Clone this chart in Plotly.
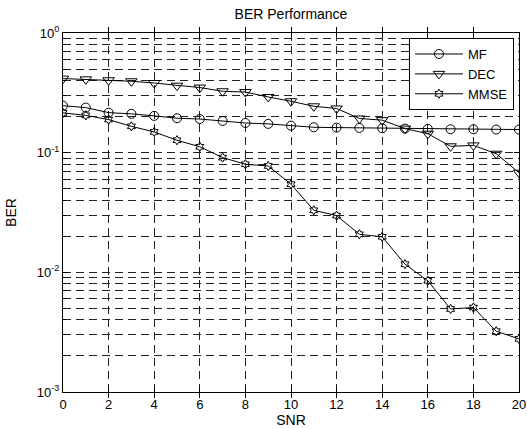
import plotly.graph_objects as go

snr = list(range(0, 21))
mf = [0.247, 0.238, 0.216, 0.211, 0.203, 0.194, 0.191, 0.184, 0.177, 0.174, 0.168,
      0.163, 0.162, 0.161, 0.160, 0.159, 0.158, 0.157, 0.157, 0.156, 0.156]
dec = [0.416, 0.410, 0.403, 0.395, 0.382, 0.363, 0.350, 0.326, 0.321, 0.292, 0.269,
       0.244, 0.234, 0.193, 0.187, 0.159, 0.144, 0.113, 0.115, 0.098, 0.068]
mmse = [0.215, 0.205, 0.189, 0.166, 0.149, 0.127, 0.112, 0.091, 0.080, 0.0774, 0.0545,
        0.033, 0.0298, 0.0208, 0.0198, 0.0117, 0.0085, 0.00494, 0.00508, 0.00322, 0.00278]
x_ticks = list(range(0, 21, 2))
y_ticks = [1e-3, 1e-2, 1e-1, 1e0]
y_ticktext = ["10<sup>-3</sup>", "10<sup>-2</sup>", "10<sup>-1</sup>", "10<sup>0</sup>"]
y_minor = [m * 10.0 ** d for d in (-3, -2, -1) for m in range(2, 10)]

fig = go.Figure()
series = [("MF", mf, "circle-open", 9), ("DEC", dec, "triangle-down-open", 10), ("MMSE", mmse, "hexagram-open", 7)]
for name, vals, sym, sz in series:
    fig.add_trace(go.Scatter(x=snr, y=vals, name=name, mode="lines+markers",
                             line=dict(color="black", width=1),
                             marker=dict(symbol=sym, size=sz, color="black", line=dict(color="black", width=1))))
# invisible helper trace on the minor-grid axis
fig.add_trace(go.Scatter(x=[snr[0]], y=[mf[0]], yaxis="y2", mode="markers", showlegend=False,
                         marker=dict(opacity=0), hoverinfo="skip"))

grid = dict(gridcolor="#222222", griddash="8px,5px", gridwidth=1)
fig.update_layout(
    width=527, height=429,
    margin=dict(l=63, r=8, t=33, b=37),
    paper_bgcolor="white", plot_bgcolor="white",
    font=dict(family="Liberation Sans, Arial", size=13, color="black"),
    title=dict(text="BER Performance", x=(63 + 519) / 2 / 527, xanchor="center", y=1 - 14 / 429, yanchor="middle",
               font=dict(size=14)),
    showlegend=True,
    legend=dict(x=0.989, y=0.986, xanchor="right", yanchor="top", bordercolor="black", borderwidth=1,
                bgcolor="white", font=dict(size=13), tracegroupgap=0, itemwidth=48),
    xaxis=dict(range=[0, 20], tickvals=x_ticks, showline=True, linecolor="black", linewidth=1, mirror="allticks",
               ticks="inside", ticklen=5, tickcolor="black", title=dict(text="SNR", standoff=2, font=dict(size=14)),
               zeroline=False, automargin=False, showgrid=True, **grid),
    yaxis=dict(type="log", range=[-3, 0], tickvals=y_ticks, ticktext=y_ticktext, showline=True, linecolor="black",
               linewidth=1, mirror="allticks", ticks="inside", ticklen=5, tickcolor="black",
               title=dict(text="BER", standoff=16, font=dict(size=14)), zeroline=False, automargin=False,
               showgrid=True, **grid),
    yaxis2=dict(type="log", range=[-3, 0], overlaying="y", side="left", tickvals=y_minor, showticklabels=False,
                ticks="inside", ticklen=3, tickcolor="black", zeroline=False, showline=False, automargin=False,
                showgrid=True, **grid),
)
fig.write_html("out.html", config={"displayModeBar": False},
               post_script="document.body.style.margin='0';document.body.style.padding='0';")
